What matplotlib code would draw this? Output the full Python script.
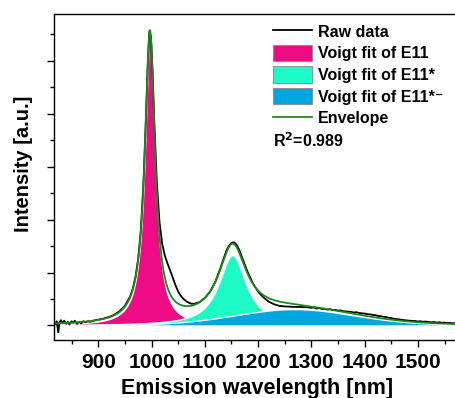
import numpy as np
import matplotlib
matplotlib.use('Agg')
import matplotlib.pyplot as plt
from matplotlib.patches import Patch
from matplotlib.lines import Line2D
from matplotlib.ticker import MultipleLocator

plt.rcParams['font.family'] = ['Liberation Sans', 'DejaVu Sans']
plt.rcParams['font.weight'] = 'bold'

# Raw emission spectrum
raw_wl = [818, 820, 822, 825, 827, 830, 833, 836, 840, 843, 846, 850, 853, 856, 860,
          864, 868, 872, 876, 880, 885, 890, 895, 900, 905, 910, 920, 930, 940,
          950, 960, 965, 970, 975, 980, 985, 990, 993, 996, 999, 1002, 1005,
          1010, 1015, 1020, 1025, 1030, 1035, 1040, 1045, 1050, 1055, 1060,
          1065, 1070, 1075, 1080, 1090, 1100, 1110, 1120, 1130, 1140, 1145,
          1150, 1155, 1160, 1165, 1170, 1180, 1190, 1200, 1210, 1220, 1230,
          1240, 1250, 1260, 1270, 1280, 1290, 1300, 1305, 1310, 1315, 1320,
          1325, 1330, 1335, 1340, 1345, 1350, 1355, 1360, 1365, 1370, 1375,
          1380, 1385, 1390, 1395, 1400, 1405, 1410, 1415, 1420, 1425, 1430,
          1435, 1440, 1445, 1450, 1455, 1460, 1465, 1470, 1475, 1480, 1485,
          1490, 1495, 1500, 1505, 1510, 1515, 1520, 1525, 1530, 1535, 1540,
          1545, 1550, 1555, 1560, 1565, 1570, 1575]
raw_int = [0.04, 0.02, 0.08, -0.13, 0.05, 0.10, 0.04, 0.09, 0.03, 0.07, 0.02, 0.08,
           0.05, 0.09, 0.03, 0.07, 0.04, 0.08, 0.06, 0.08, 0.07, 0.09, 0.10,
           0.11, 0.12, 0.13, 0.16, 0.20, 0.27, 0.37, 0.55, 0.70, 0.92, 1.26,
           1.80, 2.72, 4.05, 4.95, 5.55, 5.45, 4.80, 3.90, 2.70, 1.95, 1.54,
           1.32, 1.17, 1.04, 0.90, 0.76, 0.64, 0.56, 0.50, 0.46, 0.43, 0.41,
           0.41, 0.44, 0.52, 0.64, 0.83, 1.10, 1.40, 1.50, 1.56, 1.57, 1.52,
           1.42, 1.28, 1.02, 0.80, 0.64, 0.53, 0.45, 0.40, 0.37, 0.36, 0.355,
           0.35, 0.35, 0.345, 0.335, 0.34, 0.32, 0.33, 0.31, 0.315, 0.30,
           0.31, 0.29, 0.295, 0.28, 0.285, 0.27, 0.265, 0.26, 0.255, 0.245,
           0.25, 0.235, 0.23, 0.225, 0.215, 0.21, 0.20, 0.195, 0.18, 0.175,
           0.165, 0.16, 0.145, 0.14, 0.125, 0.12, 0.115, 0.105, 0.10, 0.095,
           0.09, 0.085, 0.085, 0.075, 0.08, 0.07, 0.075, 0.065, 0.06, 0.065,
           0.055, 0.06, 0.05, 0.055, 0.045, 0.05, 0.04, 0.045, 0.035]

# Voigt fit parameters (pseudo-Voigt: centre, height, FWHM, Lorentz fraction)
peak_labels = ['Voigt fit of E11', 'Voigt fit of E11*', 'Voigt fit of E11*\u207b']
peak_centers = [997, 1152, 1268]
peak_heights = [5.50, 1.33, 0.31]
peak_fwhm = [23, 62, 270]
peak_eta = [1.0, 0.95, 0.2]
peak_colors = ['#EE0C85', '#1EFAC5', '#00A6E0']
r_squared = 0.989


def pseudo_voigt(x, c, h, w, eta):
    u = (x - c) / (w / 2)
    return h * (eta / (1 + u ** 2) + (1 - eta) * np.exp(-np.log(2) * u ** 2))


x = np.arange(816, 1580.5, 0.5)
fits = [pseudo_voigt(x, c, h, w, e)
        for c, h, w, e in zip(peak_centers, peak_heights, peak_fwhm, peak_eta)]
envelope = np.sum(fits, axis=0)

W, H = 455, 398
fig = plt.figure(figsize=(W / 100, H / 100), dpi=100)
ax = fig.add_axes([53.5 / W, (H - 340) / H, 407 / W, 326 / H])

for f, col in zip(fits, peak_colors):
    ax.fill_between(x, 0, f, facecolor=col, edgecolor='white', linewidth=1.0)

ax.plot(raw_wl, raw_int, color='black', lw=1.3)
ax.plot(x, envelope, color='#1A8C1A', lw=1.3)

ax.set_xlim(816, 1580)
ax.set_ylim(-0.274, 5.88)
ax.xaxis.set_major_locator(MultipleLocator(100))
ax.xaxis.set_minor_locator(MultipleLocator(50))
ax.yaxis.set_major_locator(MultipleLocator(1))
ax.yaxis.set_minor_locator(MultipleLocator(0.5))
ax.tick_params(which='major', direction='out', length=5, width=1, labelsize=15, pad=4)
ax.tick_params(which='minor', direction='out', length=3, width=1)
ax.tick_params(axis='y', labelleft=False)
for lab in ax.get_xticklabels():
    lab.set_fontweight('bold')
for sp in ax.spines.values():
    sp.set_linewidth(1.0)

ax.set_xlabel('Emission wavelength [nm]', fontsize=15.5, fontweight='bold', labelpad=5)
ax.set_ylabel('Intensity [a.u.]', fontsize=14.5, fontweight='bold')
ax.yaxis.set_label_coords(-0.05, 0.54)

handles = [Line2D([], [], color='black', lw=1.3)]
handles += [Patch(facecolor=c, edgecolor='#888888', lw=0.6) for c in peak_colors]
handles += [Line2D([], [], color='#1A8C1A', lw=1.3)]
labels = ['Raw data'] + peak_labels + ['Envelope']
leg = ax.legend(handles, labels, loc='upper left',
                bbox_to_anchor=(273 / W, 1 - 23 / H), bbox_transform=fig.transFigure,
                frameon=False, fontsize=11.5, handlelength=2.45, handleheight=1.2,
                handletextpad=0.35, labelspacing=0.32, borderaxespad=0, borderpad=0)
for t in leg.get_texts():
    t.set_fontweight('bold')
fig.text(273 / W, 1 - 141 / H, 'R$^{\\mathbf{2}}$=%.3f' % r_squared,
         fontsize=11.5, fontweight='bold', va='center', ha='left')

fig.savefig('out.png', dpi=100)
